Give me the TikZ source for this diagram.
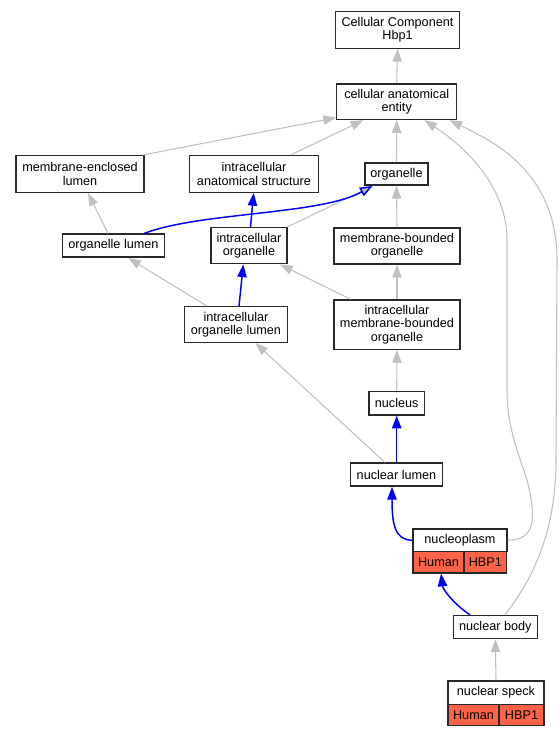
\documentclass[tikz,border=0pt]{standalone}
\usepackage{fontspec}
\setmainfont{Liberation Sans}
\usetikzlibrary{arrows.meta,calc}
\definecolor{edgegray}{RGB}{192,192,192}
\definecolor{tomatofill}{RGB}{255,99,71}
\definecolor{boxline}{RGB}{40,40,40}
\tikzset{
  sz/.style 2 args={minimum width=#1*0.75pt, minimum height=#2*0.75pt},
  box/.style={draw=boxline, line width=1.1pt, fill=white, inner sep=0pt, align=center,
    font=\fontsize{9.5}{10}\selectfont},
  redcell/.style={box, fill=tomatofill},
  gedge/.style={draw=edgegray, line width=0.8pt, -{Triangle[length=9.5pt,width=7pt]}},
  bedge/.style={draw=blue, line width=1.1pt, -{Triangle[length=9.5pt,width=7pt]}},
  bopen/.style={draw=blue, line width=1.1pt, -{Triangle[open,length=9.5pt,width=7pt]}},
}
\begin{document}
\begin{tikzpicture}[x=0.75pt,y=-0.75pt]
\useasboundingbox (0,0) rectangle (560,736);
% nodes
\node[box, sz={124}{36.5}] (cc) at (397.5,30) {Cellular Component\\Hbp1};
\node[box, sz={120}{35.5}] (cae) at (396.7,101.7) {cellular anatomical\\entity};
\node[box, sz={128}{36.5}] (mel) at (80,174) {membrane-enclosed\\lumen};
\node[box, sz={129.5}{36.5}] (ias) at (254,174) {intracellular\\anatomical structure};
\node[box, sz={63}{22.3}] (org) at (396.5,174) {organelle};
\node[box, sz={101.5}{23}] (ol) at (113.5,245.7) {organelle lumen};
\node[box, sz={76}{36}] (io) at (249,245.7) {intracellular\\organelle};
\node[box, sz={125.7}{36}] (mbo) at (397,246) {membrane-bounded\\organelle};
\node[box, sz={102.5}{35.6}] (iol) at (236,324.5) {intracellular\\organelle lumen};
\node[box, sz={125.7}{49.3}] (imbo) at (397,324.7) {intracellular\\membrane-bounded\\organelle};
\node[box, sz={55.4}{23.3}] (nuc) at (396.7,403.3) {nucleus};
\node[box, sz={92}{23}] (nl) at (396.5,474.7) {nuclear lumen};
\node[box, sz={93.7}{22.7}] (np) at (460,540.3) {nucleoplasm};
\node[redcell, sz={51}{21.3}] (nph) at (438.5,562.3) {Human};
\node[redcell, sz={42.7}{21.3}] (npb) at (485.3,562.3) {HBP1};
\node[box, sz={84}{23}] (nb) at (495.3,627) {nuclear body};
\node[box, sz={96}{23.3}] (ns) at (496,692.7) {nuclear speck};
\node[redcell, sz={51}{21.3}] (nsh) at (473.5,715) {Human};
\node[redcell, sz={45}{21.3}] (nsb) at (521.5,715) {HBP1};
% edges
\draw[gedge] (cae.north) -- (cc.south);
\draw[gedge] ($(mel.north east)+(-2,0)$) -- ($(cae.south west)+(0,-2.5)$);
\draw[gedge] ($(ias.north)+(36.6,0)$) -- ($(cae.south)+(-33.4,0)$);
\draw[gedge] (org.north) -- (cae.south);
\draw[gedge] (np.east) .. controls (535,540) and (537,520) .. (527,480)
  .. controls (517,450) and (507,425) .. (507,390) -- (507,240)
  .. controls (507,190) and (470,150) .. ($(cae.south)+(27.7,0)$);
\draw[gedge] ($(nb.north)+(9.7,0)$) .. controls (540,570) and (556,520) .. (556,460)
  -- (557,260) .. controls (557,170) and (490,140) .. ($(cae.south)+(52.9,0)$);
\draw[gedge] (mbo.north) -- (org.south);
\draw[gedge] ($(io.north east)+(-0.5,0)$) -- ($(org.south)+(-23.5,0)$);
\draw[bopen] ($(ol.north)+(30.5,0)$) .. controls (200,212) and (320,215) .. ($(org.south)+(-24,0)$);
\draw[bedge] ($(io.north)+(1.5,0)$) -- ($(ias.south)+(-0.4,0)$);
\draw[gedge] ($(ol.north)+(-5.5,0)$) -- ($(mel.south)+(8,0)$);
\draw[gedge] ($(iol.north)+(-29.3,0)$) -- ($(ol.south)+(14.8,0)$);
\draw[bedge] ($(iol.north)+(3,0)$) -- ($(io.south)+(-5.7,0)$);
\draw[gedge] ($(imbo.north)+(-46.3,0)$) -- ($(io.south)+(31,0)$);
\draw[gedge] (imbo.north) -- (mbo.south);
\draw[gedge] (nuc.north) -- (imbo.south);
\draw[gedge] ($(nl.north)+(-11.5,0)$) -- ($(iol.south)+(19.4,0)$);
\draw[bedge] ($(nl.north)+(0.2,0)$) -- (nuc.south);
\draw[bedge] (np.west) .. controls (395,540) and (392,525) .. ($(nl.south)+(-4.5,0)$);
\draw[bedge] ($(nb.north)+(-25.3,0)$) .. controls (455,605) and (443,590) .. ($(nph.south)+(2.5,0)$);
\draw[gedge] (ns.north) -- (nb.south);
\end{tikzpicture}
\end{document}
